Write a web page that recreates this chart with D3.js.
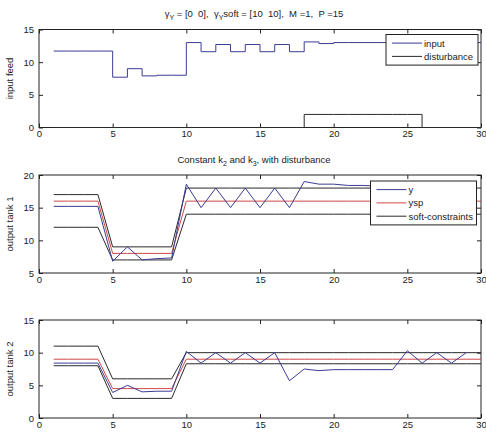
<!DOCTYPE html>
<html>
<head>
<meta charset="utf-8">
<script src="https://cdn.jsdelivr.net/npm/d3@7"></script>
<style>
  body { margin: 0; background: #fff; }
  svg { font-family: "Liberation Sans", Arial, sans-serif; }
  .title { white-space: pre; }
</style>
</head>
<body>
<svg id="fig" width="486" height="432"></svg>
<script>
// sample index k = 1..30
var steps = d3.range(1, 31);

// subplot 1
var inputFeed = [11.7, 11.7, 11.7, 11.7, 7.7, 9.0, 7.9, 8.0, 8.0, 13.0,
                 11.6, 12.7, 11.6, 12.7, 11.6, 12.7, 11.6, 13.1, 12.85, 13.0,
                 13.0, 13.0, 13.0, 13.0, 13.0, 13.0, 13.0, 13.0, 13.0, 13.0];
var disturbance = [0, 0, 0, 0, 0, 0, 0, 0, 0, 0, 0, 0, 0, 0, 0, 0, 0,
                   2, 2, 2, 2, 2, 2, 2, 2, 0, 0, 0, 0, 0];

// subplot 2
var y1 = [15.2, 15.2, 15.2, 15.2, 6.8, 9.0, 7.0, 7.2, 7.3, 18.6,
          15, 18, 15, 18, 15, 18, 15, 19.0, 18.6, 18.6,
          18.4, 18.4, 18.3, 18.3, 18.3, 18.3, 18.3, 18.3, 18.3];
var ysp1 = [16, 16, 16, 16, 8, 8, 8, 8, 8, 16, 16, 16, 16, 16, 16,
            16, 16, 16, 16, 16, 16, 16, 16, 16, 16, 16, 16, 16, 16, 16];
var soft1Hi = [17, 17, 17, 17, 9, 9, 9, 9, 9, 18, 18, 18, 18, 18, 18,
               18, 18, 18, 18, 18, 18, 18, 18, 18, 18, 18, 18, 18, 18, 18];
var soft1Lo = [12, 12, 12, 12, 7, 7, 7, 7, 7, 14, 14, 14, 14, 14, 14,
               14, 14, 14, 14, 14, 14, 14, 14, 14, 14, 14, 14, 14, 14, 14];

// subplot 3
var y2 = [8.4, 8.4, 8.4, 8.4, 3.9, 5.0, 4.0, 4.1, 4.1, 10.2,
          8.4, 10, 8.4, 10, 8.4, 10, 5.7, 7.5, 7.25, 7.4,
          7.4, 7.4, 7.4, 7.4, 10.3, 8.4, 10, 8.4, 10];
var ysp2 = [9, 9, 9, 9, 4.5, 4.5, 4.5, 4.5, 4.5, 9, 9, 9, 9, 9, 9,
            9, 9, 9, 9, 9, 9, 9, 9, 9, 9, 9, 9, 9, 9, 9];
var soft2Hi = [11, 11, 11, 11, 6, 6, 6, 6, 6, 10, 10, 10, 10, 10, 10,
               10, 10, 10, 10, 10, 10, 10, 10, 10, 10, 10, 10, 10, 10, 10];
var soft2Lo = [8, 8, 8, 8, 3, 3, 3, 3, 3, 8.3, 8.3, 8.3, 8.3, 8.3, 8.3,
               8.3, 8.3, 8.3, 8.3, 8.3, 8.3, 8.3, 8.3, 8.3, 8.3, 8.3, 8.3, 8.3, 8.3, 8.3];

var xTicks = [0, 5, 10, 15, 20, 25, 30];

var BLUE = '#3b3b94', RED = '#d04848', DARK = '#2a2a2a';

var svg = d3.select('#fig');
var left = 39, right = 481, plotH = 98;
var x = d3.scaleLinear().domain([0, 30]).range([left, right]);

function panel(top, ydom, yticks, ylabel) {
  var y = d3.scaleLinear().domain(ydom).range([top + plotH, top]);
  var g = svg.append('g');
  // inward ticks on all sides
  g.append('g').attr('transform', 'translate(0,' + (top + plotH) + ')')
    .call(d3.axisBottom(x).tickValues(xTicks).tickSizeInner(-4).tickSizeOuter(0).tickPadding(3));
  g.append('g').attr('transform', 'translate(0,' + top + ')')
    .call(d3.axisTop(x).tickValues(xTicks).tickSizeInner(-4).tickSizeOuter(0).tickFormat(''));
  g.append('g').attr('transform', 'translate(' + left + ',0)')
    .call(d3.axisLeft(y).tickValues(yticks).tickSizeInner(-4).tickSizeOuter(0).tickPadding(5));
  g.append('g').attr('transform', 'translate(' + right + ',0)')
    .call(d3.axisRight(y).tickValues(yticks).tickSizeInner(-4).tickSizeOuter(0).tickFormat(''));
  g.selectAll('.domain').remove();
  g.selectAll('.tick line').attr('stroke', '#222');
  g.selectAll('.tick text').attr('font-size', 9.5).attr('fill', '#222')
    .attr('font-family', '"Liberation Sans", Arial, sans-serif');
  g.append('rect').attr('x', left).attr('y', top).attr('width', right - left).attr('height', plotH)
    .attr('fill', 'none').attr('stroke', '#222').attr('stroke-width', 1);
  svg.append('text').attr('transform', 'translate(13,' + (top + plotH / 2) + ') rotate(-90)')
    .attr('text-anchor', 'middle').attr('font-size', 9.5).attr('fill', '#222').text(ylabel);
  return y;
}

function drawLine(y, vals, color, curve) {
  var line = d3.line().x(function(d, i) { return x(steps[i]); }).y(function(d) { return y(d); })
    .curve(curve || d3.curveLinear);
  svg.append('path').datum(vals).attr('d', line).attr('fill', 'none')
    .attr('stroke', color).attr('stroke-width', 1);
}

function legend(x0, y0, w, items) {
  var rowH = 13.3;
  var h = items.length * rowH + 4;
  svg.append('rect').attr('x', x0).attr('y', y0).attr('width', w).attr('height', h)
    .attr('fill', '#fff').attr('stroke', '#222').attr('stroke-width', 1);
  items.forEach(function(it, i) {
    var cy = y0 + 8.6 + i * rowH;
    svg.append('line').attr('x1', x0 + 6).attr('x2', x0 + 36).attr('y1', cy).attr('y2', cy)
      .attr('stroke', it.color).attr('stroke-width', 1);
    svg.append('text').attr('x', x0 + 38).attr('y', cy + 3.4).attr('font-size', 9.5)
      .attr('fill', '#222').text(it.label);
  });
}

// ---- subplot 1
var yA = panel(29.5, [0, 15], [0, 5, 10, 15], 'input feed');
drawLine(yA, inputFeed, BLUE, d3.curveStepAfter);
drawLine(yA, disturbance, DARK, d3.curveStepAfter);
legend(386, 34.5, 92, [{label: 'input', color: BLUE}, {label: 'disturbance', color: DARK}]);

var t1 = svg.append('text').attr('class', 'title').attr('x', 254).attr('y', 17)
  .attr('text-anchor', 'middle').attr('font-size', 9.5).attr('fill', '#222');
t1.append('tspan').text('\u03B3');
t1.append('tspan').attr('font-size', 7).attr('dy', 3).text('Y');
t1.append('tspan').attr('dy', -3).text(' = [0  0],  \u03B3');
t1.append('tspan').attr('font-size', 7).attr('dy', 3).text('Y');
t1.append('tspan').attr('dy', -3).text('soft = [10  10],  M =1,  P =15');

// ---- subplot 2
var yB = panel(175, [5, 20], [5, 10, 15, 20], 'output tank 1');
drawLine(yB, soft1Hi, DARK);
drawLine(yB, soft1Lo, DARK);
drawLine(yB, ysp1, RED);
drawLine(yB, y1, BLUE);
legend(370.5, 181, 106, [{label: 'y', color: BLUE}, {label: 'ysp', color: RED},
  {label: 'soft-constraints', color: DARK}]);

var t2 = svg.append('text').attr('class', 'title').attr('x', 254).attr('y', 163)
  .attr('text-anchor', 'middle').attr('font-size', 9.5).attr('fill', '#222');
t2.append('tspan').text('Constant k');
t2.append('tspan').attr('font-size', 7).attr('dy', 3).text('2');
t2.append('tspan').attr('dy', -3).text(' and k');
t2.append('tspan').attr('font-size', 7).attr('dy', 3).text('3');
t2.append('tspan').attr('dy', -3).text(', with disturbance');

// ---- subplot 3
var yC = panel(320, [0, 15], [0, 5, 10, 15], 'output tank 2');
drawLine(yC, soft2Hi, DARK);
drawLine(yC, soft2Lo, DARK);
drawLine(yC, ysp2, RED);
drawLine(yC, y2, BLUE);
</script>
</body>
</html>
